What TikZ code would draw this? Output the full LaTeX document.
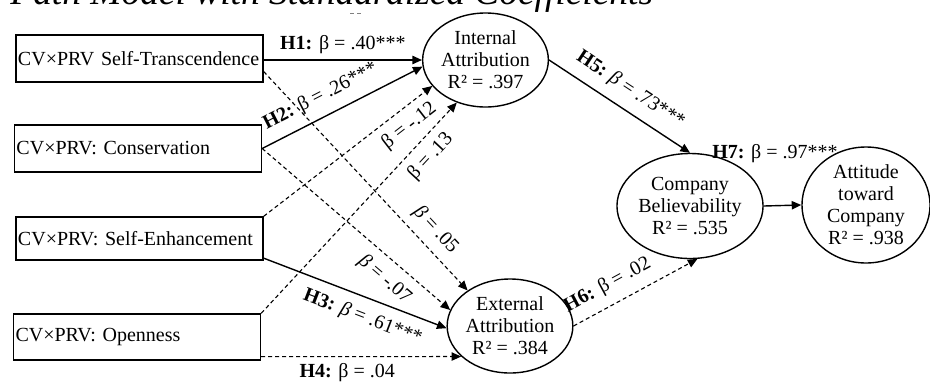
\documentclass[tikz,border=0pt]{standalone}
\usepackage{fontspec}
\setmainfont{Liberation Serif}
\usetikzlibrary{shapes.geometric,arrows.meta}

\tikzset{
  varbox/.style={draw, line width=0.7pt, text width=121.5pt, align=left,
    inner xsep=1pt, inner ysep=0pt, minimum height=23pt,
    font=\fontsize{10}{11}\selectfont},
  construct/.style={draw, ellipse, line width=0.7pt, inner sep=0pt, align=center,
    font=\fontsize{10}{11}\selectfont},
  tip/.style={-{Triangle[length=4.8pt,width=4.2pt]}},
  sig/.style={tip, line width=0.7pt},
  ns/.style={tip, line width=0.55pt, dash pattern=on 2pt off 1.5pt},
  coef/.style={font=\fontsize{10}{11}\selectfont, inner sep=1pt},
}

\begin{document}
\begin{tikzpicture}[x=0.5pt,y=-0.5pt]
  \useasboundingbox (0,0) rectangle (930,386);
  \clip (0,0) rectangle (930,386);

  % caption line, cut at the top edge
  \node[anchor=base west, inner sep=0pt, font=\fontsize{18.7}{20}\selectfont\itshape]
    (title) at (10,4) {Path Model with Standardized Coefficients};
  \draw[line width=0.4pt, gray] (350,13) -- (354,13) (357,13) -- (361,13);

  % predictors
  \node[varbox, minimum height=23.5pt] (b1) at (139.5,58.5) {CV×PRV Self-Transcendence};
  \node[varbox, minimum height=23.5pt] (b2) at (138,148.5) {CV×PRV: Conservation};
  \node[varbox, minimum height=21.5pt] (b3) at (139.5,238.5) {CV×PRV: Self-Enhancement};
  \node[varbox, minimum height=23pt] (b4) at (137,337) {CV×PRV: Openness};

  % constructs
  \node[construct, minimum width=62.5pt, minimum height=47pt] (ia) at (485.5,60)
    {Internal\\Attribution\\R² = .397};
  \node[construct, minimum width=60pt, minimum height=47pt] (ea) at (510,326)
    {External\\Attribution\\R² = .384};
  \node[construct, minimum width=62.5pt, minimum height=52.5pt] (cb) at (690,206)
    {Company\\Believability\\R² = .535};
  \node[construct, minimum width=64pt, minimum height=58pt] (at) at (866,205)
    {Attitude\\toward\\Company\\R² = .938};

  % paths to internal attribution
  \draw[sig] (b1.east |- ia.west) -- (ia.west)
    node[coef, midway, above=2pt] {\textbf{H1:} β = .40***};
  \draw[sig] (b2.east) -- (ia.186)
    node[coef, pos=0.42, sloped, above=4pt] {\textbf{H2:} β = .26***};
  \draw[ns] (b3.north east) -- (ia.206)
    node[coef, pos=0.8, sloped, below=3pt] {β = -.12};
  \draw[ns] (b4.north east) -- (ia.236)
    node[coef, pos=0.8, sloped, below=3pt] {β = .13};

  % paths to external attribution
  \draw[ns] (b1.-6) -- (ea.140)
    node[coef, pos=0.78, sloped, above=3pt] {\textit{β} = .05};
  \draw[ns] (b2.east) -- (ea.165)
    node[coef, pos=0.72, sloped, below=4pt] {\textit{β} = -.07};
  \draw[sig] (b3.-9) -- (ea.182)
    node[coef, pos=0.58, sloped, below=4pt] {\textbf{H3:} \textit{β} = .61***};
  \draw[ns] (b4.-9) -- (ea.-148)
    node[coef, pos=0.43, below=2pt] {\textbf{H4:} β = .04};

  % mediators to outcome
  \draw[sig] (ia.east) -- (cb.north)
    node[coef, pos=0.5, sloped, above=4pt] {\textbf{H5:} \textit{β} = .73***};
  \draw[ns] (ea.east) -- (cb.-82)
    node[coef, pos=0.35, sloped, above=4pt] {\textbf{H6:} β = .02};
  \draw[sig] (cb.east) -- (at.west);
  \node[coef] (h7) at (775,154) {\textbf{H7:} β = .97***};
\end{tikzpicture}
\end{document}
